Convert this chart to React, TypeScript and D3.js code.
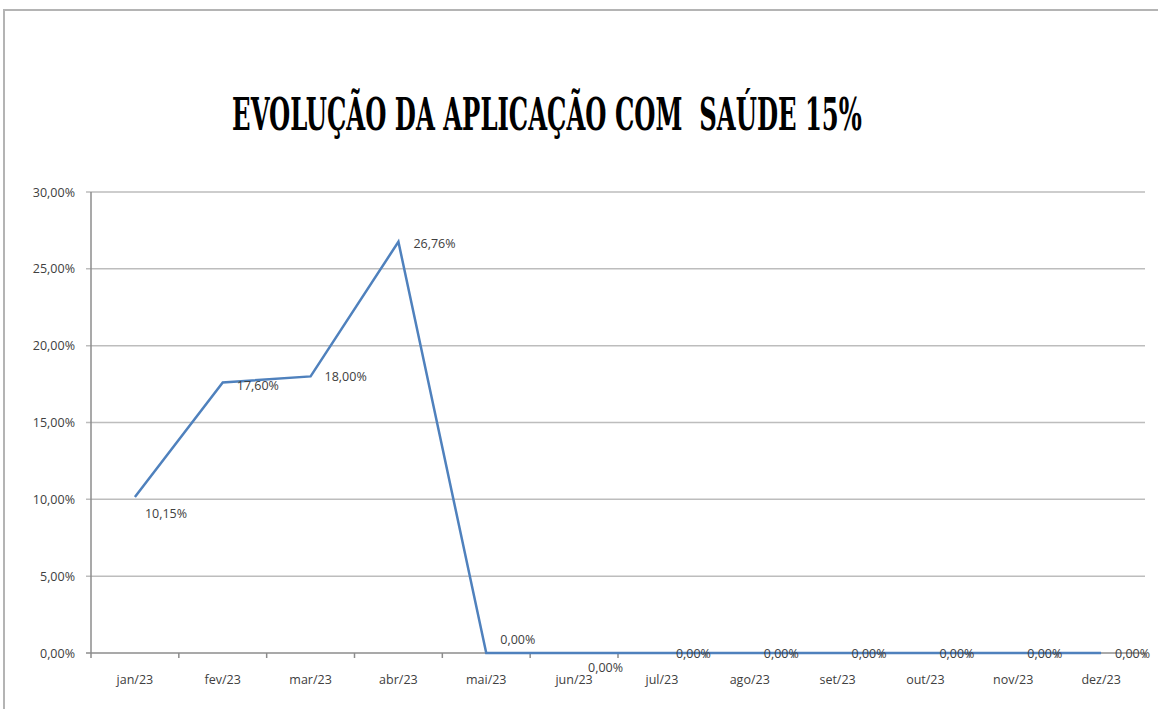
import React, { useEffect, useRef } from "react";
import * as d3 from "d3";

const months = ["jan/23", "fev/23", "mar/23", "abr/23", "mai/23", "jun/23", "jul/23", "ago/23", "set/23", "out/23", "nov/23", "dez/23"];
const values = [10.15, 17.6, 18.0, 26.76, 0, 0, 0, 0, 0, 0, 0, 0];
const yTicks = [0, 5, 10, 15, 20, 25, 30];
const titleText = "EVOLUÇÃO DA APLICAÇÃO COM  SAÚDE 15%";

const W = 1158, H = 709;
const M = { left: 91, right: 1145, top: 192, bottom: 653 };

// label placement offsets per point (dx, dy)
const labelPos: [number, number][] = [
  [10, 21], [14, 7], [14, 5], [15, 6], [14, -9], [14, 19],
  [14, 5], [14, 5], [14, 5], [14, 5], [14, 5], [14, 5],
];

const fmt = (v: number) => v.toFixed(2).replace(".", ",") + "%";

export default function App() {
  const ref = useRef<SVGSVGElement>(null);
  useEffect(() => {
    const svg = d3.select(ref.current);
    svg.selectAll("*").remove();

    // border
    svg.append("path").attr("d", `M4,${H} L4,10 L${W},10`).attr("fill", "none")
      .attr("stroke", "#b4b4b4").attr("stroke-width", 2);

    const tg = svg.append("g");
    const title = tg.append("text").attr("x", 0).attr("y", 0).attr("text-anchor", "middle")
      .attr("font-family", "'DejaVu Serif Condensed', 'DejaVu Serif', serif")
      .attr("font-weight", "bold").attr("font-size", 44)
      .style("white-space", "pre")
      .attr("fill", "#000").text(titleText);
    const natural = (title.node() as SVGTextElement).getComputedTextLength() || 630;
    tg.attr("transform", `translate(547,130) scale(${630 / natural},1)`);

    const x = d3.scaleBand().domain(months).range([M.left, M.right]).paddingInner(0).paddingOuter(0);
    const y = d3.scaleLinear().domain([0, 30]).range([M.bottom, M.top]);

    const font = "'Open Sans', 'Liberation Sans', sans-serif";
    const fs = 12.5;

    // gridlines
    svg.append("g").selectAll("line").data(yTicks.filter(t => t > 0)).join("line")
      .attr("x1", M.left - 5).attr("x2", M.right).attr("y1", d => y(d)).attr("y2", d => y(d))
      .attr("stroke", "#bdbdbd").attr("stroke-width", 1.5);

    // y tick labels
    svg.append("g").selectAll("text").data(yTicks).join("text")
      .attr("x", 75).attr("y", d => y(d) + 4.5).attr("text-anchor", "end")
      .attr("font-family", font).attr("font-size", fs).attr("fill", "#404040")
      .text(d => fmt(d));

    // y axis line
    svg.append("line").attr("x1", M.left).attr("x2", M.left).attr("y1", M.top).attr("y2", M.bottom)
      .attr("stroke", "#8c8c8c").attr("stroke-width", 1.5);
    svg.append("line").attr("x1", M.left - 5).attr("x2", M.left).attr("y1", M.bottom).attr("y2", M.bottom)
      .attr("stroke", "#8c8c8c").attr("stroke-width", 1.5);
    // x axis line
    svg.append("line").attr("x1", M.left).attr("x2", M.right).attr("y1", M.bottom).attr("y2", M.bottom)
      .attr("stroke", "#8c8c8c").attr("stroke-width", 1.5);

    // x ticks
    const tickXs = months.map(m => x(m)!).concat([M.right]);
    svg.append("g").selectAll("line").data(tickXs).join("line")
      .attr("x1", d => d).attr("x2", d => d).attr("y1", M.bottom).attr("y2", M.bottom + 5)
      .attr("stroke", "#8c8c8c").attr("stroke-width", 1.5);

    svg.append("g").selectAll("text").data(months).join("text")
      .attr("x", d => x(d)! + x.bandwidth() / 2).attr("y", 684).attr("text-anchor", "middle")
      .attr("font-family", font).attr("font-size", fs).attr("fill", "#404040")
      .text(d => d);

    const cx = (i: number) => x(months[i])! + x.bandwidth() / 2;
    const line = d3.line<number>().x((_, i) => cx(i)).y(d => y(d));
    svg.append("path").datum(values).attr("d", line).attr("fill", "none")
      .attr("stroke", "#4f81bd").attr("stroke-width", 2.5).attr("stroke-linejoin", "miter");

    svg.append("g").selectAll("text").data(values).join("text")
      .attr("x", (_, i) => cx(i) + labelPos[i][0])
      .attr("y", (d, i) => y(d) + labelPos[i][1])
      .attr("font-family", font).attr("font-size", fs).attr("fill", "#404040")
      .text(d => fmt(d));
  }, []);

  return (
    <svg ref={ref} width={W} height={H}
      style={{ position: "absolute", left: 0, top: 0, background: "#fff" }} />
  );
}
